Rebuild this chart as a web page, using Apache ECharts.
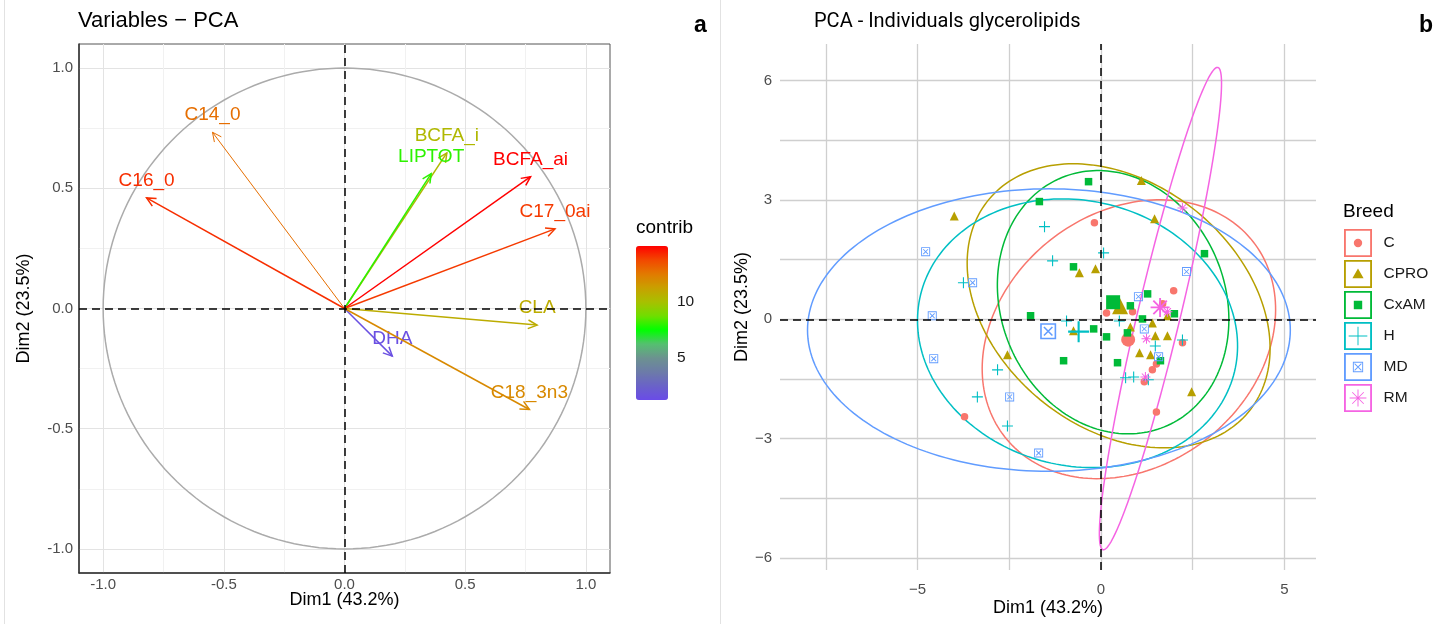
<!DOCTYPE html>
<html>
<head>
<meta charset="utf-8">
<title>PCA glycerolipids</title>
<script src="https://cdn.jsdelivr.net/npm/echarts@6/dist/echarts.min.js"></script>
<style>
  html, body { margin: 0; padding: 0; background: #fff; }
  #chart { width: 1451px; height: 624px; }
</style>
</head>
<body>
<div id="chart"></div>
<script>
// panel a - variables
const varNames = ['C14_0', 'C16_0', 'BCFA_i', 'LIPTOT', 'BCFA_ai', 'C17_0ai', 'CLA', 'DHA', 'C18_3n3'];
const varDim1 = [-0.547, -0.82, 0.424, 0.359, 0.771, 0.872, 0.798, 0.198, 0.766];
const varDim2 = [0.733, 0.46, 0.647, 0.561, 0.548, 0.331, -0.069, -0.198, -0.42];
const varContrib = [12.8, 14.2, 10.3, 8.0, 15.0, 14.0, 10.8, 1.5, 12.0];
const contribTicks = [10, 5];
const corrCircle = [[0, 0, 1]];
const aTicks = [-1, -0.5, 0, 0.5, 1];

// panel b - individuals
const breeds = ['C', 'CPRO', 'CxAM', 'H', 'MD', 'RM'];
const indC = [[-0.18, 2.43], [1.98, 0.72], [0.15, 0.16], [0.86, 0.19], [1.68, 0.39], [2.22, -0.59],
  [1.51, -1.12], [1.40, -1.27], [1.18, -1.57], [1.51, -2.33], [-3.72, -2.45]];
const indCPRO = [[-4.0, 2.6], [1.10, 3.49], [1.46, 2.53], [-0.59, 1.17], [-0.15, 1.27], [1.81, 0.09],
  [1.40, -0.09], [-0.75, -0.29], [0.80, -0.19], [1.48, -0.41], [1.81, -0.41], [1.05, -0.84],
  [1.35, -0.89], [2.47, -1.82], [-2.55, -0.89]];
const indCxAM = [[-0.34, 3.46], [-1.68, 2.96], [-0.75, 1.32], [2.82, 1.65], [1.27, 0.64], [0.80, 0.34],
  [2.00, 0.14], [1.13, 0.01], [-1.92, 0.09], [-0.20, -0.24], [0.72, -0.34], [0.15, -0.44],
  [-1.02, -1.04], [1.62, -1.04], [0.45, -1.09]];
const indH = [[-1.54, 2.33], [-1.32, 1.47], [0.07, 1.67], [-3.75, 0.92], [-0.94, -0.04], [0.50, -0.04],
  [2.22, -0.52], [1.48, -0.67], [0.67, -1.47], [0.89, -1.45], [1.29, -1.52], [-2.82, -1.27],
  [-3.37, -1.95], [-2.55, -2.68]];
const indMD = [[-4.78, 1.7], [-3.5, 0.92], [2.33, 1.2], [1.02, 0.57], [-4.6, 0.09], [-4.56, -0.99],
  [1.18, -0.24], [1.57, -0.94], [-2.49, -1.95], [-1.7, -3.36]];
const indRM = [[2.22, 2.8], [1.81, 0.19], [1.24, -0.49], [1.21, -1.45]];
const breedMeans = [[0.74, -0.51], [0.52, 0.33], [0.33, 0.43], [-0.61, -0.31], [-1.44, -0.30], [1.61, 0.30]];
// confidence ellipses: centre x, centre y, semi-axis a, semi-axis b, angle (deg)
const breedEllipses = [
  [0.76, -0.50, 4.2, 3.26, 29],
  [0.48, 0.34, 4.45, 3.16, -32],
  [0.33, 0.43, 3.45, 3.0, -55],
  [-0.64, -0.35, 4.39, 3.34, -10],
  [-1.42, -0.27, 6.58, 3.55, 0],
  [1.62, 0.27, 6.26, 0.58, 75.5]
];
const bXTicks = [-5, 0, 5];
const bYTicks = [-6, -3, 0, 3, 6];

const breedPoints = [indC, indCPRO, indCxAM, indH, indMD, indRM];
const breedColors = ['#F8766D', '#B79F00', '#00BA38', '#00BFC4', '#619CFF', '#F564E3'];
const plusPath = 'path://M4.5,0H5.5V10H4.5ZM0,4.5H10V5.5H0Z';
const boxXPath = 'path://M0,0H10V10H0ZM1,1V9H9V1ZM2,2.7L2.7,2L8,7.3L7.3,8ZM2,7.3L7.3,2L8,2.7L2.7,8Z';
const starPath = 'path://M0,4.5H10V5.5H0ZM4.5,0H5.5V10H4.5ZM1.1,1.8L1.8,1.1L8.9,8.2L8.2,8.9ZM1.1,8.2L8.2,1.1L8.9,1.8L1.8,8.9Z';
const breedSymbols = ['circle', 'triangle', 'rect', plusPath, boxXPath, starPath];
const smallSizes = [7.5, 9, 7.5, 11, 9, 10];
const meanSizes = [14, 16, 14, 21, 16, 19];

const ring = 'M0,0H30V30H0ZM2,2V28H28V2Z';
const legendIcons = [
  'path://' + ring + 'M19.5,15A4.5,4.5 0 1 1 10.5,15A4.5,4.5 0 1 1 19.5,15Z',
  'path://' + ring + 'M15,9L21,19.5L9,19.5Z',
  'path://' + ring + 'M10.5,10.5H19.5V19.5H10.5Z',
  'path://' + ring + 'M14.5,5H15.5V25H14.5ZM5,14.5H25V15.5H5Z',
  'path://' + ring + 'M9.5,9.5H20.5V20.5H9.5ZM10.5,10.5V19.5H19.5V10.5ZM11,11.7L11.7,11L19,18.3L18.3,19ZM11,18.3L18.3,11L19,11.7L11.7,19Z',
  'path://' + ring + 'M6,14.5H24V15.5H6ZM14.5,6H15.5V24H14.5ZM8.5,9.2L9.2,8.5L21.5,20.8L20.8,21.5ZM8.5,20.8L20.8,8.5L21.5,9.2L9.2,21.5Z'
];

const contribColors = ['#6A4BE8', '#6A62C8', '#6C7BA8', '#6C9290', '#55C070', '#00FF00',
  '#70DE00', '#A8C000', '#C8A000', '#E27A00', '#F24800', '#FF0000'];

const FONT = '"Liberation Sans", Arial, sans-serif';
const CLEAR = 'rgba(0,0,0,0)';

function isTick(v, ticks) {
  return ticks.some(t => Math.abs(t - v) < 1e-6);
}

function renderCircle(params, api) {
  const cx = api.value(0), cy = api.value(1), r = api.value(2);
  const pts = [];
  for (let k = 0; k <= 180; k++) {
    const t = k / 180 * 2 * Math.PI;
    pts.push(api.coord([cx + r * Math.cos(t), cy + r * Math.sin(t)]));
  }
  return { type: 'polyline', shape: { points: pts }, style: { stroke: '#ABABAB', lineWidth: 1.5, fill: 'none' } };
}

function renderArrow(params, api) {
  const o = api.coord([0, 0]);
  const t = api.coord([api.value(0), api.value(1)]);
  const color = api.visual('color');
  const ang = Math.atan2(t[1] - o[1], t[0] - o[0]);
  const h = 10, spread = 0.45;
  const p1 = [t[0] - h * Math.cos(ang - spread), t[1] - h * Math.sin(ang - spread)];
  const p2 = [t[0] - h * Math.cos(ang + spread), t[1] - h * Math.sin(ang + spread)];
  const w = params.dataIndex === 0 ? 1 : 1.5;
  return {
    type: 'group',
    children: [
      { type: 'line', shape: { x1: o[0], y1: o[1], x2: t[0], y2: t[1] }, style: { stroke: color, lineWidth: w } },
      { type: 'polyline', shape: { points: [p1, t, p2] }, style: { stroke: color, lineWidth: w, fill: 'none' } },
      {
        type: 'text', x: t[0], y: t[1] - 17,
        style: { text: varNames[params.dataIndex], fill: color, fontSize: 19, fontFamily: FONT, align: 'center', verticalAlign: 'middle' }
      }
    ]
  };
}

function renderEllipse(params, api) {
  const cx = api.value(0), cy = api.value(1), a = api.value(2), b = api.value(3);
  const th = api.value(4) * Math.PI / 180;
  const pts = [];
  for (let k = 0; k < 200; k++) {
    const t = k / 200 * 2 * Math.PI;
    const ex = a * Math.cos(t), ey = b * Math.sin(t);
    pts.push(api.coord([cx + ex * Math.cos(th) - ey * Math.sin(th), cy + ex * Math.sin(th) + ey * Math.cos(th)]));
  }
  return { type: 'polygon', shape: { points: pts }, style: { stroke: breedColors[params.dataIndex], fill: 'none', lineWidth: 1.5 } };
}

const zeroLines = {
  silent: true, symbol: 'none', label: { show: false },
  lineStyle: { color: '#000', type: [8, 5], width: 1.5 },
  data: [{ xAxis: 0 }, { yAxis: 0 }]
};

const chart = echarts.init(document.getElementById('chart'));

const option = {
  animation: false,
  backgroundColor: '#fff',
  title: [
    { text: 'Variables − PCA', left: 78, top: 10, padding: 0, textStyle: { fontSize: 22, fontWeight: 'normal', fontFamily: FONT, color: '#000' } },
    { text: 'PCA - Individuals glycerolipids', left: 814, top: 12, padding: 0, textStyle: { fontSize: 20, fontWeight: 'normal', fontFamily: 'Roboto', color: '#000' } },
    { text: 'a', left: 694, top: 14, padding: 0, textStyle: { fontSize: 23, fontWeight: 'bold', fontFamily: FONT, color: '#000' } },
    { text: 'b', left: 1419, top: 14, padding: 0, textStyle: { fontSize: 23, fontWeight: 'bold', fontFamily: FONT, color: '#000' } },
    { text: 'contrib', left: 636, top: 218, padding: 0, textStyle: { fontSize: 19, fontWeight: 'normal', fontFamily: FONT, color: '#000' } },
    { text: 'Breed', left: 1343, top: 202, padding: 0, textStyle: { fontSize: 19, fontWeight: 'normal', fontFamily: FONT, color: '#000' } }
  ],
  grid: [
    { left: 79, top: 44, width: 531, height: 529, show: true, borderColor: '#555', borderWidth: 1, backgroundColor: '#fff' },
    { left: 780, top: 44, width: 536, height: 526, show: false }
  ],
  xAxis: [
    {
      gridIndex: 0, type: 'value', min: -1.1, max: 1.1, interval: 0.05,
      name: 'Dim1 (43.2%)', nameLocation: 'middle', nameGap: 18, nameMoveOverlap: false,
      nameTextStyle: { fontSize: 18, fontFamily: FONT, color: '#000', verticalAlign: 'top' },
      axisLine: { show: true, onZero: false, lineStyle: { color: '#333', width: 1.5 } },
      axisTick: { show: false },
      axisLabel: { margin: 4, fontSize: 15, fontFamily: FONT, color: '#4D4D4D', formatter: v => isTick(v, aTicks) ? v.toFixed(1) : '' },
      splitLine: { show: true, lineStyle: { width: 1, color: [CLEAR, CLEAR, '#E3E3E3', CLEAR, CLEAR, CLEAR, CLEAR, '#F1F1F1', CLEAR, CLEAR] } }
    },
    {
      gridIndex: 1, type: 'value', min: -8.75, max: 5.86, interval: 1.25,
      name: 'Dim1 (43.2%)', nameLocation: 'middle', nameGap: 29, nameMoveOverlap: false,
      nameTextStyle: { fontSize: 18, fontFamily: FONT, color: '#000', verticalAlign: 'top' },
      axisLine: { show: false, onZero: false },
      axisTick: { show: false },
      axisLabel: { margin: 12, fontSize: 15, fontFamily: FONT, color: '#4D4D4D', formatter: v => isTick(v, bXTicks) ? String(v).replace('-', '−') : '' },
      splitLine: { show: true, lineStyle: { width: 1.3, color: [CLEAR, '#CFCFCF'] } }
    }
  ],
  yAxis: [
    {
      gridIndex: 0, type: 'value', min: -1.1, max: 1.1, interval: 0.05,
      name: 'Dim2 (23.5%)', nameLocation: 'middle', nameGap: 46,
      nameTextStyle: { fontSize: 18, fontFamily: FONT, color: '#000' },
      axisLine: { show: true, onZero: false, lineStyle: { color: '#333', width: 1.5 } },
      axisTick: { show: false },
      axisLabel: { margin: 6, fontSize: 15, fontFamily: FONT, color: '#4D4D4D', formatter: v => isTick(v, aTicks) ? v.toFixed(1) : '' },
      splitLine: { show: true, lineStyle: { width: 1, color: [CLEAR, CLEAR, '#E3E3E3', CLEAR, CLEAR, CLEAR, CLEAR, '#F1F1F1', CLEAR, CLEAR] } }
    },
    {
      gridIndex: 1, type: 'value', min: -6.3, max: 6.92, interval: 0.3,
      name: 'Dim2 (23.5%)', nameLocation: 'middle', nameGap: 29,
      nameTextStyle: { fontSize: 18, fontFamily: FONT, color: '#000' },
      axisLine: { show: false, onZero: false },
      axisTick: { show: false },
      axisLabel: { margin: 8, fontSize: 15, fontFamily: FONT, color: '#4D4D4D', formatter: v => isTick(v, bYTicks) ? String(Math.round(v)).replace('-', '−') : '' },
      splitLine: { show: true, lineStyle: { width: 1.3, color: [CLEAR, '#CFCFCF', CLEAR, CLEAR, CLEAR] } }
    }
  ],
  visualMap: {
    type: 'continuous', min: 1.25, max: 15, dimension: 2, seriesIndex: 1,
    left: 636, top: 246, itemWidth: 32, itemHeight: 154, padding: 0,
    calculable: false, hoverLink: false, show: true,
    inRange: { color: contribColors }
  },
  legend: {
    orient: 'vertical', left: 1344, top: 229, padding: 0, itemWidth: 29, itemHeight: 28, itemGap: 3,
    selectedMode: false,
    textStyle: { fontSize: 15.5, fontFamily: FONT, color: '#1A1A1A', padding: [0, 0, 0, 6] },
    data: breeds.map((b, i) => ({ name: b, icon: legendIcons[i], itemStyle: { color: breedColors[i], borderWidth: 0 } }))
  },
  graphic: [
    { type: 'line', shape: { x1: 4.5, y1: 0, x2: 4.5, y2: 624 }, style: { stroke: '#E2E2E2', lineWidth: 1 } },
    { type: 'line', shape: { x1: 720.5, y1: 0, x2: 720.5, y2: 624 }, style: { stroke: '#E2E2E2', lineWidth: 1 } },
    ...contribTicks.map(v => {
      const y = 400 - (v - 1.25) / 13.75 * 154;
      return { type: 'group', children: [
        { type: 'line', shape: { x1: 636, y1: y, x2: 642, y2: y }, style: { stroke: '#fff', lineWidth: 1 } },
        { type: 'line', shape: { x1: 662, y1: y, x2: 668, y2: y }, style: { stroke: '#fff', lineWidth: 1 } },
        { type: 'text', x: 677, y: y, style: { text: String(v), fontSize: 15.5, fontFamily: FONT, fill: '#1A1A1A', verticalAlign: 'middle' } }
      ] };
    })
  ],
  series: [
    {
      type: 'custom', xAxisIndex: 0, yAxisIndex: 0, silent: true, z: 2,
      renderItem: renderCircle, data: corrCircle,
      markLine: zeroLines
    },
    {
      type: 'custom', xAxisIndex: 0, yAxisIndex: 0, silent: true, z: 3,
      renderItem: renderArrow,
      data: varNames.map((n, i) => ({ name: n, value: [varDim1[i], varDim2[i], varContrib[i]] }))
    },
    {
      type: 'custom', xAxisIndex: 1, yAxisIndex: 1, silent: true, z: 3,
      renderItem: renderEllipse, data: breedEllipses,
      markLine: zeroLines
    },
    ...breeds.map((b, i) => ({
      name: b, type: 'scatter', xAxisIndex: 1, yAxisIndex: 1, silent: true, z: 4,
      symbol: breedSymbols[i], symbolSize: smallSizes[i],
      itemStyle: { color: breedColors[i], opacity: 1 },
      data: breedPoints[i].concat([{ value: breedMeans[i], symbolSize: meanSizes[i] }])
    }))
  ]
};

chart.setOption(option);
</script>
</body>
</html>
